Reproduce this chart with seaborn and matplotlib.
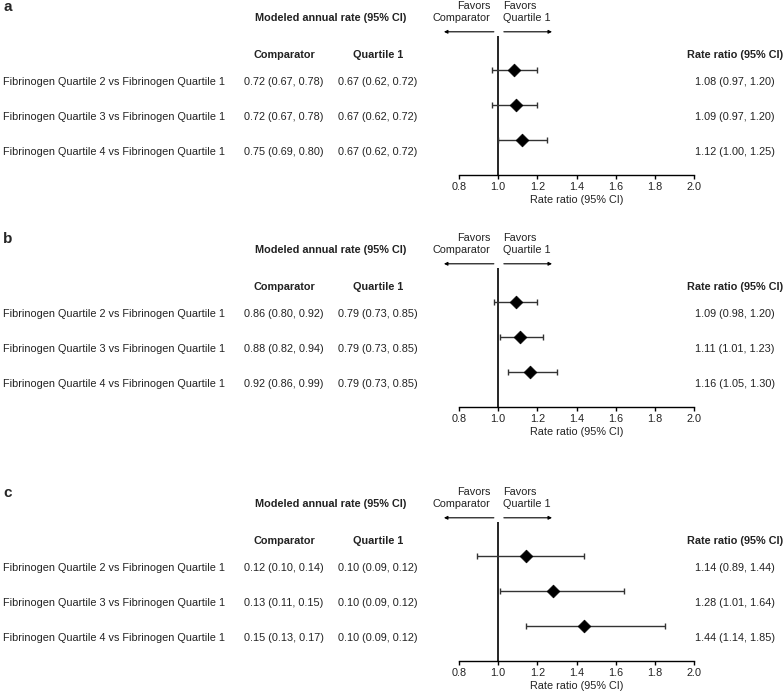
import matplotlib
matplotlib.use("Agg")
import matplotlib.pyplot as plt
from matplotlib.transforms import blended_transform_factory
import seaborn as sns
import pandas as pd

# rows shared by all three panels
comparisons = [
    "Fibrinogen Quartile 2 vs Fibrinogen Quartile 1",
    "Fibrinogen Quartile 3 vs Fibrinogen Quartile 1",
    "Fibrinogen Quartile 4 vs Fibrinogen Quartile 1",
]
panel_labels = ["a", "b", "c"]

# modeled annual rate (estimate, lower, upper) per panel
comparator_rates = [
    [(0.72, 0.67, 0.78), (0.72, 0.67, 0.78), (0.75, 0.69, 0.80)],
    [(0.86, 0.80, 0.92), (0.88, 0.82, 0.94), (0.92, 0.86, 0.99)],
    [(0.12, 0.10, 0.14), (0.13, 0.11, 0.15), (0.15, 0.13, 0.17)],
]
quartile1_rates = [
    [(0.67, 0.62, 0.72)] * 3,
    [(0.79, 0.73, 0.85)] * 3,
    [(0.10, 0.09, 0.12)] * 3,
]

# rate ratios with 95% CI
rate_ratio = [[1.08, 1.09, 1.12], [1.09, 1.11, 1.16], [1.14, 1.28, 1.44]]
rr_lower = [[0.97, 0.97, 1.00], [0.98, 1.01, 1.05], [0.89, 1.01, 1.14]]
rr_upper = [[1.20, 1.20, 1.25], [1.20, 1.23, 1.30], [1.44, 1.64, 1.85]]

xticks = [0.8, 1.0, 1.2, 1.4, 1.6, 1.8, 2.0]


def fmt(t):
    return f"{t[0]:.2f} ({t[1]:.2f}, {t[2]:.2f})"


FS = 7.8
TXT = "#222222"

sns.set_style("ticks")
plt.rcParams["font.family"] = ["Liberation Sans", "DejaVu Sans"]
plt.rcParams["font.size"] = FS

W, H = 784, 696
fig = plt.figure(figsize=(7.84, 6.96), dpi=100)


def fx(px):
    return px / W


def fy(py):
    return 1 - py / H


offsets = [0, 232, 486]
ax_left, ax_right = 459, 694

for p in range(3):
    top = 36 + offsets[p]
    ax = fig.add_axes([fx(ax_left), fy(top + 139), (ax_right - ax_left) / W, 139 / H])

    df = pd.DataFrame({
        "row": range(3),
        "rr": rate_ratio[p],
        "lo": rr_lower[p],
        "hi": rr_upper[p],
    })

    ax.errorbar(df["rr"], df["row"],
                xerr=[df["rr"] - df["lo"], df["hi"] - df["rr"]],
                fmt="none", ecolor="#333333", elinewidth=1.0, capsize=2.5,
                capthick=1.0, zorder=2)
    sns.scatterplot(data=df, x="rr", y="row", marker="D", s=42, color="black",
                    edgecolor="black", ax=ax, zorder=3, legend=False)
    ax.axvline(1.0, color="black", lw=1.2, zorder=1)

    ax.set_xlim(0.8, 2.0)
    ax.set_ylim(3.0, -0.97)
    ax.set_xticks(xticks)
    ax.set_xticklabels([f"{t:.1f}" for t in xticks])
    ax.set_yticks([])
    ax.set_ylabel("")
    ax.set_xlabel("Rate ratio (95% CI)", fontsize=FS, labelpad=2, color=TXT)
    ax.tick_params(axis="x", length=3, width=1.0, pad=2, labelsize=FS,
                   colors="black", labelcolor=TXT)
    sns.despine(ax=ax, left=True)
    ax.spines["bottom"].set_linewidth(1.0)
    ax.spines["bottom"].set_color("black")
    ax.patch.set_alpha(0)

    # favors arrows
    ax.annotate("", xy=(0.723, -1.09), xytext=(0.978, -1.09),
                arrowprops=dict(arrowstyle="-|>", lw=0.8, color="black",
                                mutation_scale=5, shrinkA=0, shrinkB=0),
                annotation_clip=False)
    ax.annotate("", xy=(1.275, -1.09), xytext=(1.029, -1.09),
                arrowprops=dict(arrowstyle="-|>", lw=0.8, color="black",
                                mutation_scale=5, shrinkA=0, shrinkB=0),
                annotation_clip=False)

    # header texts
    fig.text(fx(3), fy(top - 29), panel_labels[p], fontsize=11, fontweight="bold",
             ha="left", va="center")
    fig.text(fx(331), fy(top - 18), "Modeled annual rate (95% CI)",
             fontweight="bold", ha="center", va="center", color=TXT)
    fig.text(fx(490), fy(top - 30), "Favors", ha="right", va="center", color=TXT)
    fig.text(fx(490), fy(top - 18), "Comparator", ha="right", va="center", color=TXT)
    fig.text(fx(503), fy(top - 30), "Favors", ha="left", va="center", color=TXT)
    fig.text(fx(503), fy(top - 18), "Quartile 1", ha="left", va="center", color=TXT)
    fig.text(fx(284), fy(top + 19), "Comparator", fontweight="bold",
             ha="center", va="center", color=TXT)
    fig.text(fx(378), fy(top + 19), "Quartile 1", fontweight="bold",
             ha="center", va="center", color=TXT)
    fig.text(fx(735), fy(top + 19), "Rate ratio (95% CI)", fontweight="bold",
             ha="center", va="center", color=TXT)

    # row texts, placed on the data rows of the axes
    tr = blended_transform_factory(fig.transFigure, ax.transData)
    for i, name in enumerate(comparisons):
        yy = i + 0.35
        ax.text(fx(3), yy, name, transform=tr, ha="left", va="center", color=TXT)
        ax.text(fx(284), yy, fmt(comparator_rates[p][i]), transform=tr,
                ha="center", va="center", color=TXT)
        ax.text(fx(378), yy, fmt(quartile1_rates[p][i]), transform=tr,
                ha="center", va="center", color=TXT)
        ax.text(fx(735), yy,
                fmt((rate_ratio[p][i], rr_lower[p][i], rr_upper[p][i])),
                transform=tr, ha="center", va="center", color=TXT)

fig.savefig("out.png", dpi=100)
